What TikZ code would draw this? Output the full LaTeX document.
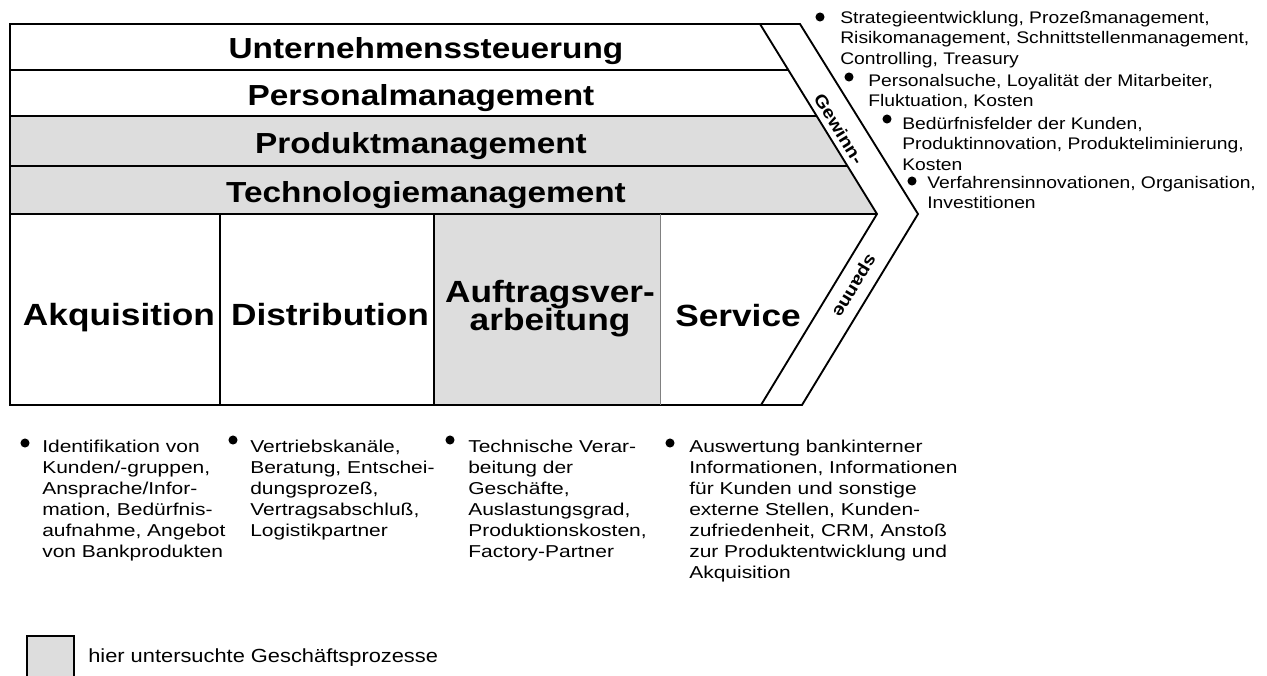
\documentclass[tikz,border=0pt]{standalone}
\usepackage{fontspec}
\setmainfont[FakeStretch=1.15]{Liberation Sans}
\newfontfamily\notefont[FakeStretch=1.22]{Liberation Sans}
\usetikzlibrary{positioning}
\definecolor{procgray}{RGB}{221,221,221}
\setlength{\lineskiplimit}{-20pt}

\begin{document}
\begin{tikzpicture}[x=0.75pt,y=-0.75pt]
    \tikzset{% This is the style settings for nodes
    head/.style={font=\fontsize{21.75}{24}\selectfont\bfseries, anchor=base, inner sep=0pt},
    col/.style={font=\fontsize{23}{21}\selectfont\bfseries, align=center, anchor=base, inner sep=0pt},
    band/.style={font=\fontsize{13}{15}\selectfont\bfseries, inner sep=0pt},
    note/.style={font=\notefont\fontsize{12.9}{15.7}\selectfont, align=left, anchor=north west, inner sep=0pt},
    topnote/.style={font=\fontsize{12.6}{15.4}\selectfont, align=left, anchor=north west, inner sep=0pt},
    dot/.style={circle, fill=black, minimum size=6.8pt, inner sep=0pt},
    frame/.style={line width=1.4pt},
    }
    \useasboundingbox (0,0) rectangle (1267,675);

    % Fills
    \fill[procgray] (10,116) -- (816.7,116) -- (877,214) -- (10,214) -- cycle;
    \fill[procgray] (434,214) rectangle (660,405);

    % Frame
    \draw[frame] (10,24) -- (800,24) -- (918,214) -- (802,405) -- (10,405) -- cycle;
    \draw[frame] (760,24) -- (877,214) -- (761,405);
    \draw[frame] (10,70) -- (788.3,70);
    \draw[frame] (10,116) -- (816.7,116);
    \draw[frame] (10,166) -- (847.4,166);
    \draw[frame] (10,214) -- (877,214);
    \draw[frame] (220,214) -- (220,405);
    \draw[frame] (434,214) -- (434,405);
    \draw[gray, line width=0.6pt] (660,214) -- (660,405);

    % Nodes
    \node[head] (us) at (426,58) {Unternehmenssteuerung};
    \node[head] (pm) at (421,105) {Personalmanagement};
    \node[head] (prm) at (421,153) {Produktmanagement};
    \node[head] (tm) at (426,202) {Technologiemanagement};

    \node[col] (akq) at (119,325) {Akquisition};
    \node[col] (dis) at (330,325) {Distribution};
    \node[col, anchor=north] (auf) at (550,280) {Auftragsver-\\arbeitung};
    \node[col] (ser) at (738,326) {Service};

    \node[band, rotate=-58.4] (gw) at (839,129) {Gewinn-};
    \node[band, rotate=-121.3] (sp) at (853,285) {spanne};

    % Top notes
    \node[dot] (t1) at (820,17) {};
    \node[topnote] (tn1) at (840,11) {Strategieentwicklung, Prozeßmanagement,\\Risikomanagement, Schnittstellenmanagement,\\Controlling, Treasury};
    \node[dot] (t2) at (849,77) {};
    \node[topnote] (tn2) at (868,74) {Personalsuche, Loyalität der Mitarbeiter,\\Fluktuation, Kosten};
    \node[dot] (t3) at (887,119) {};
    \node[topnote] (tn3) at (902,117) {Bedürfnisfelder der Kunden,\\Produktinnovation, Produkteliminierung,\\Kosten};
    \node[dot] (t4) at (912,181) {};
    \node[topnote] (tn4) at (927,176) {Verfahrensinnovationen, Organisation,\\Investitionen};

    % Bottom notes
    \node[dot] (b1) at (25,443) {};
    \node[note] (bn1) at (42,440) {Identifikation von\\Kunden/-gruppen,\\Ansprache/Infor-\\mation, Bedürfnis-\\aufnahme, Angebot\\von Bankprodukten};
    \node[dot] (b2) at (233,440) {};
    \node[note] (bn2) at (250,440) {Vertriebskanäle,\\Beratung, Entschei-\\dungsprozeß,\\Vertragsabschluß,\\Logistikpartner};
    \node[dot] (b3) at (450,440) {};
    \node[note] (bn3) at (468,440) {Technische Verar-\\beitung der\\Geschäfte,\\Auslastungsgrad,\\Produktionskosten,\\Factory-Partner};
    \node[dot] (b4) at (670,443) {};
    \node[note] (bn4) at (689,440) {Auswertung bankinterner\\Informationen, Informationen\\für Kunden und sonstige\\externe Stellen, Kunden-\\zufriedenheit, CRM, Anstoß\\zur Produktentwicklung und\\Akquisition};

    % Legend
    \draw[line width=0.8pt, fill=procgray] (27,636) rectangle (74,680);
    \node[font=\fontsize{14.25}{16}\selectfont, anchor=west, inner sep=0pt] (leg) at (88,658) {hier untersuchte Geschäftsprozesse};
\end{tikzpicture}
\end{document}
